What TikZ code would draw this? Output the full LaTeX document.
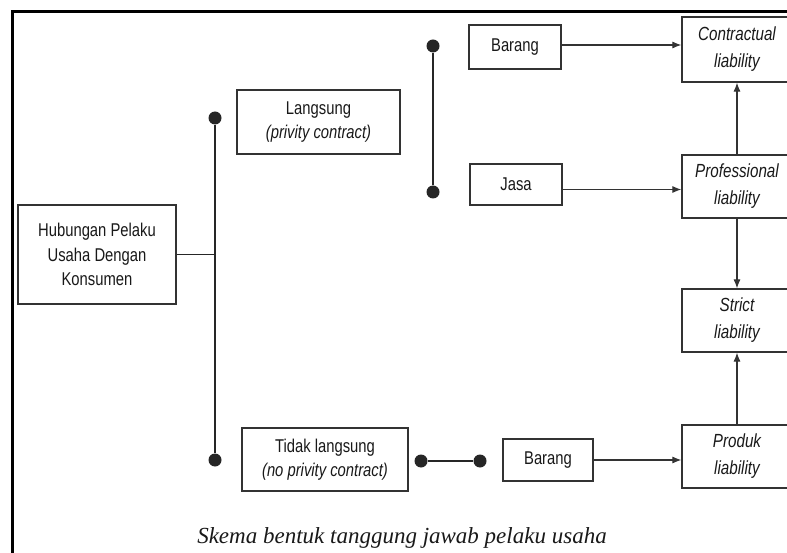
\documentclass[tikz,border=0pt]{standalone}
\usepackage{fontspec}
\setmainfont{Liberation Serif}
\newfontfamily\narrowsans{Liberation Sans}[FakeStretch=0.8]
\usetikzlibrary{arrows.meta}

\begin{document}
\begin{tikzpicture}[x=1pt,y=-1pt,
    box/.style={draw=black!80, line width=1.2pt, inner sep=0pt, align=center,
      text=black!90, font=\narrowsans\fontsize{18.5}{24.5}\selectfont},
    liab/.style={box, font=\narrowsans\itshape\fontsize{19}{27}\selectfont,
      minimum width=110pt, minimum height=63pt},
    dot/.style={circle, fill=black!85, inner sep=0pt, minimum size=13pt},
    link/.style={line width=1.4pt, draw=black!85},
    arr/.style={line width=1.1pt, draw=black!80, -{Latex[length=9pt,width=7pt]}}]
  \useasboundingbox (0,0) rectangle (787,553);
  \fill[white] (0,0) rectangle (787,553);
  \draw[line width=3pt] (12,600) -- (12,12) -- (800,12);

  \draw
    (97,254.5) node[box, minimum width=158pt, minimum height=99pt] (hub)
      {Hubungan Pelaku\\Usaha Dengan\\Konsumen}
    (318.5,122) node[box, minimum width=163pt, minimum height=64pt] (lang)
      {Langsung\\\textit{(privity contract)}}
    (325,459.5) node[box, minimum width=166pt, minimum height=63pt] (tidak)
      {Tidak langsung\\\textit{(no privity contract)}}
    (515,47) node[box, minimum width=92pt, minimum height=44pt] (barang1) {Barang}
    (516,184.5) node[box, minimum width=92pt, minimum height=41pt] (jasa) {Jasa}
    (548,460) node[box, minimum width=90pt, minimum height=42pt] (barang2) {Barang}
    (737,49.5) node[liab, minimum height=65pt] (contract) {Contractual\\liability}
    (737,186.5) node[liab] (prof) {Professional\\liability}
    (737,320.5) node[liab] (strict) {Strict\\liability}
    (737,456.5) node[liab] (produk) {Produk\\liability};

  \draw
    (215,118) node[dot] (d1) {}
    (215,460) node[dot] (d2) {}
    (433,46) node[dot] (d3) {}
    (433,192) node[dot] (d4) {}
    (421,461) node[dot] (d5) {}
    (480,461) node[dot] (d6) {};

  \begin{scope}[link]
    \draw (d1) to (d2);
    \draw (d3) to (d4);
    \draw (d5) to (d6);
    \draw (hub.east) to (hub.east -| d1);
  \end{scope}

  \begin{scope}[arr]
    \draw ([yshift=2pt]barang1.east) to ([yshift=2pt]barang1.east -| contract.west);
    \draw ([yshift=-5pt]jasa.east) to ([yshift=-5pt]jasa.east -| prof.west);
    \draw (barang2.east) to (barang2.east -| produk.west);
    \draw (prof.north) to (contract.south);
    \draw (prof.south) to (strict.north);
    \draw (produk.north) to (strict.south);
  \end{scope}

  \node[anchor=base, text=black!90, font=\itshape\fontsize{23}{28}\selectfont]
    (caption) at (402,543) {Skema bentuk tanggung jawab pelaku usaha};
\end{tikzpicture}
\end{document}
